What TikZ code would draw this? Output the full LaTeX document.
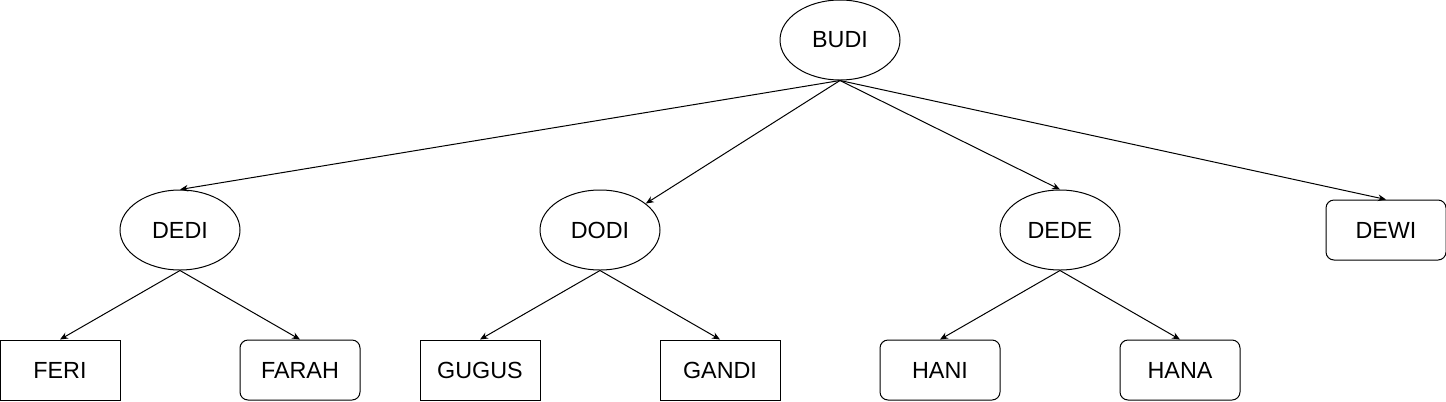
\documentclass[tikz,border=0pt]{standalone}
\usepackage{fontspec}
\setmainfont{Liberation Sans}
\usetikzlibrary{arrows.meta,shapes.geometric}

\begin{document}
\begin{tikzpicture}[x=0.75pt,y=-0.75pt]
  \useasboundingbox (0,0) rectangle (1446,401);

  %stili
  \tikzset{arc/.style={-{Stealth[length=6pt,width=5pt]}, black, line width=0.75pt, text=black}}
  \tikzset{elli/.style={ellipse, draw, line width=0.75pt, minimum width=90pt, minimum height=60pt, inner sep=0pt, font=\fontsize{17.5}{20}\selectfont}}
  \tikzset{quad/.style={rectangle, draw, line width=0.75pt, minimum width=90pt, minimum height=45pt, inner sep=0pt, font=\fontsize{17.5}{20}\selectfont}}
  \tikzset{tondo/.style={quad, rounded corners=6pt}}

  % radice
  \node[elli] (BUDI) at (840,40) {BUDI};
  % figli
  \node[elli] (DEDI) at (180,230) {DEDI};
  \node[elli] (DODI) at (600,230) {DODI};
  \node[elli] (DEDE) at (1060,230) {DEDE};
  \node[tondo] (DEWI) at (1386,230) {DEWI};
  % nipoti
  \node[quad] (FERI) at (60,370) {FERI};
  \node[tondo] (FARAH) at (300,370) {FARAH};
  \node[quad] (GUGUS) at (480,370) {GUGUS};
  \node[quad] (GANDI) at (720,370) {GANDI};
  \node[tondo] (HANI) at (940,370) {HANI};
  \node[tondo] (HANA) at (1180,370) {HANA};

  %frecce
  \draw[arc] (BUDI.south) -- (DEDI.north);
  \draw[arc] (BUDI.south) -- (DODI.30);
  \draw[arc] (BUDI.south) -- (DEDE.north);
  \draw[arc] (BUDI.south) -- (DEWI.north);

  \draw[arc] (DEDI.south) -- (FERI.north);
  \draw[arc] (DEDI.south) -- (FARAH.north);

  \draw[arc] (DODI.south) -- (GUGUS.north);
  \draw[arc] (DODI.south) -- (GANDI.north);

  \draw[arc] (DEDE.south) -- (HANI.north);
  \draw[arc] (DEDE.south) -- (HANA.north);

\end{tikzpicture}
\end{document}
